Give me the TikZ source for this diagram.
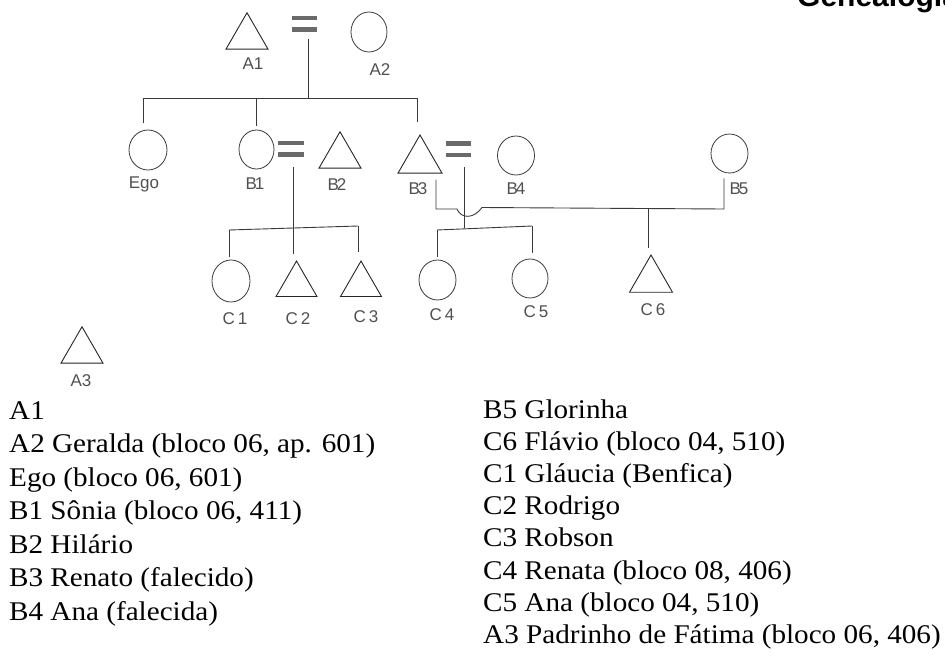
\documentclass[tikz,border=0pt]{standalone}
\usepackage{fontspec}
\setmainfont{Liberation Serif}
\newfontfamily\labelfont{Liberation Sans}
\newfontfamily\legendfont[FakeStretch=1.08]{Liberation Serif}
\usetikzlibrary{shapes.geometric}
\definecolor{kinline}{HTML}{3A3A3A}
\definecolor{tagtext}{HTML}{505050}
\definecolor{bond}{HTML}{6A6A6A}

\begin{document}
\begin{tikzpicture}[x=1pt,y=-1pt,
  male/.style={draw=black!85, line width=0.9pt, regular polygon, regular polygon sides=3,
    minimum size=48.5pt, inner sep=0pt},
  female/.style={draw=kinline, line width=0.8pt, ellipse, inner sep=0pt,
    minimum width=37pt, minimum height=40pt},
  marriage/.style={inner sep=0pt, minimum width=25pt, minimum height=16pt,
    path picture={
      \fill[bond] (path picture bounding box.north west) rectangle
        ([yshift=-4.5pt]path picture bounding box.north east);
      \fill[bond] (path picture bounding box.south west) rectangle
        ([yshift=4.5pt]path picture bounding box.south east);}},
  kin/.style={draw=kinline, line width=0.9pt},
  tag/.style={font=\labelfont\fontsize{17}{19}\selectfont, text=tagtext, anchor=base, inner sep=0pt},
  legend/.style={font=\legendfont\fontsize{27}{33}\selectfont, anchor=base west, inner sep=0pt}]

\useasboundingbox (0,0) rectangle (945,659);

% title, running off the top edge
\node[font=\labelfont\bfseries\fontsize{30}{32}\selectfont, anchor=base west, inner sep=0pt]
  (title) at (797,6) {Genealogia};

% ---- generation A ----
\node[male] (A1) at (247,37) {};
\node[marriage] (mA) at (304.5,23.75) {};
\node[female, minimum width=36pt] (A2) at (369,32) {};
\node[tag] (A1t) at (253,69) {A1};
\node[tag] (A2t) at (380,75) {A2};

% ---- generation B ----
\node[female, minimum width=38pt] (Ego) at (148,150) {};
\node[female, minimum width=35pt, minimum height=39pt] (B1) at (256.5,149.5) {};
\node[marriage, minimum width=26pt] (mB) at (291,148.7) {};
\node[male] (B2) at (340,156) {};
\node[male, minimum size=50.8pt] (B3) at (420,160.4) {};
\node[marriage] (mC) at (458.5,149) {};
\node[female, minimum height=39pt] (B4) at (516,155.5) {};
\node[female, minimum height=39pt] (B5) at (729.5,153.5) {};
\node[tag] (Egot) at (144,188) {Ego};
\node[tag] (B1t) at (255,189) {B\kern-2pt1};
\node[tag] (B2t) at (337,190) {B\kern-2pt2};
\node[tag] (B3t) at (418,194) {B\kern-2pt3};
\node[tag] (B4t) at (516,194) {B\kern-2pt4};
\node[tag] (B5t) at (739,194) {B\kern-2pt5};

% ---- generation C ----
\node[female, minimum width=38pt, minimum height=42pt] (C1) at (231,281) {};
\node[male, minimum size=47.3pt] (C2) at (296.5,284.7) {};
\node[male, minimum size=47.3pt] (C3) at (361,284.7) {};
\node[female] (C4) at (437.5,280) {};
\node[female, minimum width=36pt, minimum height=39pt] (C5) at (530,278.5) {};
\node[male, minimum size=49.6pt] (C6) at (651,279.8) {};
\node[tag] (C1t) at (235,324) {C\kern3pt1};
\node[tag] (C2t) at (298,324) {C\kern3pt2};
\node[tag] (C3t) at (366,322) {C\kern3pt3};
\node[tag] (C4t) at (442,320) {C\kern3pt4};
\node[tag] (C5t) at (536,317) {C\kern3pt5};
\node[tag] (C6t) at (653,315) {C\kern3pt6};

% ---- unattached ----
\node[male] (A3) at (82,351) {};
\node[tag] (A3t) at (81,386) {A3};

% ---- descent from A1 = A2 ----
\coordinate (aBar) at (308,98);
\coordinate (aL) at (143,98);
\coordinate (aR) at (417,98);
\draw[kin, shorten <=7pt] (mA.south -| aBar) -- (aBar);
\draw[kin] (aL) -- (aR);
\draw[kin, shorten >=7pt] (aL) -- (aL |- Ego.north);
\draw[kin, shorten >=4pt] (B1.north |- aBar) -- (B1.north);
\draw[kin, shorten >=12pt] (aR) -- (aR |- B3.north);

% ---- descent from B1 = B2 ----
\coordinate (bMid) at (293,228);
\coordinate (bL) at (229,230);
\coordinate (bR) at (358,226);
\draw[kin, shorten <=10pt, shorten >=6pt] (mB.south -| bMid) -- (bMid |- C2.north);
\draw[kin] (bL) -- (bR);
\draw[kin, shorten >=3pt] (bL) -- (bL |- C1.north);
\draw[kin, shorten >=8pt] (bR) -- (bR |- C3.north);

% ---- descent from B3 = B4 ----
\coordinate (cMid) at (464,228);
\coordinate (cL) at (437,230);
\coordinate (cR) at (532,226);
\draw[kin, shorten <=10pt] (mC.south -| cMid) -- (cMid);
\draw[kin] (cL) -- (cR);
\draw[kin, shorten >=3pt] (cL) -- (cL |- C4.north);
\draw[kin, shorten >=6pt] (cR) -- (cR |- C5.north);

% ---- union of B3 and B5, hopping over the line above ----
\coordinate (uL) at (436,209);
\coordinate (uR) at (724,209);
\coordinate (uMid) at (648,209);
\coordinate (hopIn) at (457,209);
\coordinate (hopOut) at (482,207.5);
\draw[kin, shorten <=6pt, shorten >=5pt] (uL |- B3.south) -- (uL) -- (hopIn)
  .. controls (461,219) and (474,219) .. (hopOut) -- (uR) -- (uR |- B5.south);
\draw[kin, shorten >=6pt] (uMid) -- (uMid |- C6.north);

% ---- key ----
\foreach \t [count=\i from 0] in {{A1},{A2 Geralda (bloco 06, ap. 601)},{Ego (bloco 06, 601)},
    {B1 Sônia (bloco 06, 411)},{B2 Hilário},{B3 Renato (falecido)},{B4 Ana (falecida)}}
  \node[legend] (keyL\i) at (9,419+33.5*\i) {\t};
\foreach \t [count=\i from 0] in {{B5 Glorinha},{C6 Flávio (bloco 04, 510)},{C1 Gláucia (Benfica)},
    {C2 Rodrigo},{C3 Robson},{C4 Renata (bloco 08, 406)},{C5 Ana (bloco 04, 510)},
    {A3 Padrinho de Fátima (bloco 06, 406)}}
  \node[legend] (keyR\i) at (483,418+32.2*\i) {\t};

\end{tikzpicture}
\end{document}
